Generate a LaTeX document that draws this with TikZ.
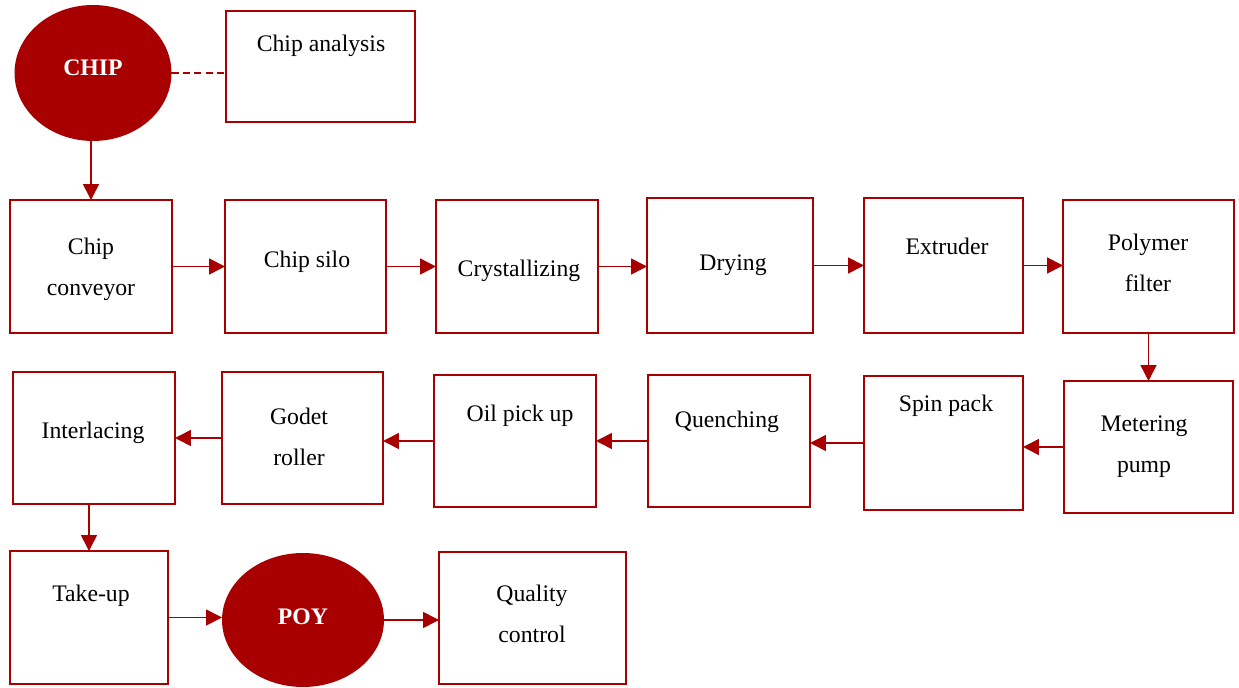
\documentclass[tikz,border=0pt]{standalone}
\usepackage{fontspec}
\setmainfont{Liberation Serif}
\usetikzlibrary{fit,shapes.geometric,arrows.meta}
\definecolor{chipred}{HTML}{A80000}

\begin{document}
\begin{tikzpicture}[x=0.02cm,y=-0.02cm,inner sep=0pt,outer sep=0pt,
	box/.style={draw=chipred,line width=1.5pt,fit={#1}},
	blob/.style={ellipse,fill=chipred,text=white,font=\fontsize{13.5}{16}\selectfont\bfseries},
	txt/.style={align=center,font=\fontsize{13.5}{23.5}\selectfont},
	flow/.style={draw=chipred,line width=0.9pt,-{Triangle[length=9pt,width=9pt]}}]
	\useasboundingbox (0,0) rectangle (1239,688);

	% raw material
	\node[blob,minimum width=3.14cm,minimum height=2.72cm,text depth=0.2cm] (chip) at (93,73) {CHIP};
	\node[box={(226,11) (415,122)}] (ana) {};
	\node[txt] (ana-t) at (321,46) {Chip analysis};

	% first row
	\node[box={(10,200) (172,333)}] (conv) {};
	\node[txt] (conv-t) at (91,269) {Chip\\conveyor};
	\node[box={(225,200) (386,333)}] (silo) {};
	\node[txt] (silo-t) at (307,262) {Chip silo};
	\node[box={(436,200) (598,333)}] (cryst) {};
	\node[txt] (cryst-t) at (519,271) {Crystallizing};
	\node[box={(647,198) (813,333)}] (dry) {};
	\node[txt] (dry-t) at (733,265) {Drying};
	\node[box={(864,198) (1023,333)}] (extr) {};
	\node[txt] (extr-t) at (947,246) {Extruder};
	\node[box={(1063,200) (1234,333)}] (filt) {};
	\node[txt] (filt-t) at (1148,263) {Polymer\\filter};

	% second row
	\node[box={(1064,381) (1233,513)}] (meter) {};
	\node[txt] (meter-t) at (1144,447) {Metering\\pump};
	\node[box={(864,376) (1023,510)}] (spin) {};
	\node[txt] (spin-t) at (946,406) {Spin pack};
	\node[box={(648,375) (810,507)}] (quench) {};
	\node[txt] (quench-t) at (727,422) {Quenching};
	\node[box={(434,375) (596,507)}] (oil) {};
	\node[txt] (oil-t) at (520,416) {Oil pick up};
	\node[box={(222,372) (383,504)}] (godet) {};
	\node[txt] (godet-t) at (299,437) {Godet\\roller};
	\node[box={(13,372) (175,504)}] (inter) {};
	\node[txt] (inter-t) at (93,433) {Interlacing};

	% third row
	\node[box={(10,551) (168,684)}] (take) {};
	\node[txt] (take-t) at (91,596) {Take-up};
	\node[blob,minimum width=3.24cm,minimum height=2.68cm,text depth=0.15cm] (poy) at (303,620) {POY};
	\node[box={(439,552) (626,684)}] (qual) {};
	\node[txt] (qual-t) at (532,614) {Quality\\control};

	\draw[chipred,line width=0.8pt,dash pattern=on 4pt off 2.5pt] (chip.east) -- (chip.east -| ana.west);
	\draw[flow] (chip.south -| conv.north) -- (conv.north);
	\draw[flow] (conv.east) -- (conv.east -| silo.west);
	\draw[flow] (silo.east) -- (silo.east -| cryst.west);
	\draw[flow] (cryst.east) -- (cryst.east -| dry.west);
	\draw[flow] (dry.east) -- (dry.east -| extr.west);
	\draw[flow] (extr.east) -- (extr.east -| filt.west);
	\draw[flow] (filt.south) -- (filt.south |- meter.north);
	\draw[flow] (meter.west) -- (meter.west -| spin.east);
	\draw[flow] (spin.west) -- (spin.west -| quench.east);
	\draw[flow] (quench.west) -- (quench.west -| oil.east);
	\draw[flow] (oil.west) -- (oil.west -| godet.east);
	\draw[flow] (godet.west) -- (godet.west -| inter.east);
	\draw[flow] (inter.south -| take.north) -- (take.north);
	\draw[flow] (take.east) -- (take.east -| poy.west);
	\draw[flow] (poy.east) -- (poy.east -| qual.west);
\end{tikzpicture}
\end{document}
